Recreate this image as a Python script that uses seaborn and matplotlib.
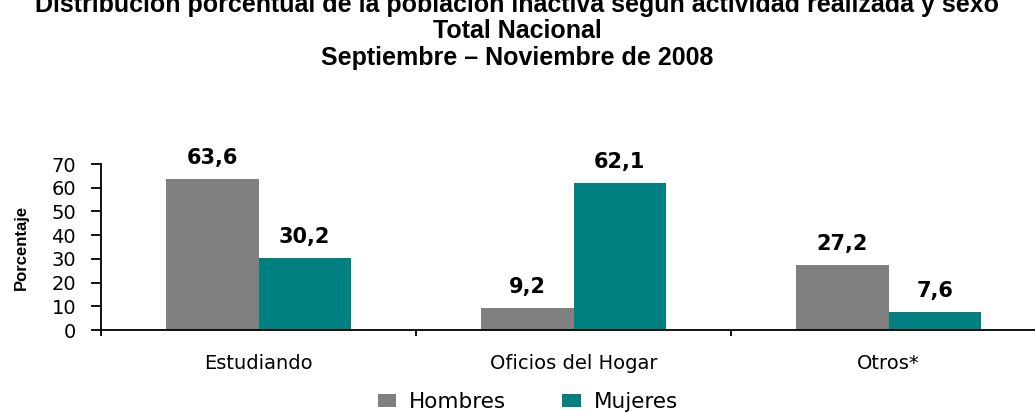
import matplotlib
matplotlib.use("Agg")
import matplotlib.pyplot as plt
import seaborn as sns
import pandas as pd

categories = ["Estudiando", "Oficios del Hogar", "Otros*"]
hombres = [63.6, 9.2, 27.2]
mujeres = [30.2, 62.1, 7.6]
series_names = ["Hombres", "Mujeres"]
value_labels_h = ["63,6", "9,2", "27,2"]
value_labels_m = ["30,2", "62,1", "7,6"]
yticks = [0, 10, 20, 30, 40, 50, 60, 70]

df = pd.DataFrame({
    "cat": categories * 2,
    "val": hombres + mujeres,
    "sexo": [series_names[0]] * 3 + [series_names[1]] * 3,
})

sns.set_theme(style="white")
plt.rcParams['font.family'] = ['DejaVu Sans']
plt.rcParams['text.color'] = 'black'
plt.rcParams['axes.labelcolor'] = 'black'

fig = plt.figure(figsize=(10.35, 4.12), dpi=100)
ax = fig.add_axes([101 / 1035, 82 / 412, 945 / 1035, 166 / 412])

sns.barplot(data=df, x="cat", y="val", hue="sexo", order=categories,
            hue_order=series_names, palette=["#808080", "#008080"],
            width=0.585, linewidth=0, saturation=1, ax=ax, legend=True)

ax.set_xlim(-0.5, 2.5)
ax.set_ylim(0, 70)
ax.set_yticks(yticks)
ax.set_yticklabels([str(v) for v in yticks], fontsize=14)
ax.tick_params(axis="y", direction="out", length=7, width=1.3, color="black",
               left=True, pad=11, labelcolor="black")
ax.tick_params(axis="x", which="major", length=0, pad=17, labelsize=14,
               labelcolor="black")
ax.set_xticks([-0.5, 0.5, 1.5], minor=True)
ax.tick_params(axis="x", which="minor", direction="out", length=4.5, width=1.3,
               color="black", bottom=True)
ax.set_xlabel("")
ax.set_ylabel("Porcentaje", fontsize=12, fontweight="bold", color="black",
              family=["Liberation Sans Narrow", "Liberation Sans"], labelpad=16)

for s in ["top", "right"]:
    ax.spines[s].set_visible(False)
for s in ["left", "bottom"]:
    ax.spines[s].set_color("black")
    ax.spines[s].set_linewidth(1.3)

# value labels
for cont, labs in zip(ax.containers, [value_labels_h, value_labels_m]):
    ax.bar_label(cont, labels=labs, padding=8, fontsize=15, fontweight="bold",
                 color="black")

# legend
handles, labels = ax.get_legend_handles_labels()
ax.get_legend().remove()
fig.legend(handles, labels, loc="center", bbox_to_anchor=(528 / 1035, 1 - 402 / 412),
           ncol=2, frameon=False, fontsize=15.5, handlelength=0.85, handleheight=0.55,
           columnspacing=2.6, handletextpad=0.6, labelcolor="black")

# titles
title_font = dict(family=["Liberation Sans", "DejaVu Sans"], fontweight="bold",
                  fontsize=18, ha="center", va="center", color="black")
fig.text(517 / 1035, 1 - 5 / 412,
         "Distribución porcentual de la población inactiva según actividad realizada y sexo",
         **title_font)
fig.text(517 / 1035, 1 - 31 / 412, "Total Nacional", **title_font)
fig.text(517 / 1035, 1 - 58 / 412, "Septiembre – Noviembre de 2008", **title_font)

fig.savefig("out.png", dpi=100)
